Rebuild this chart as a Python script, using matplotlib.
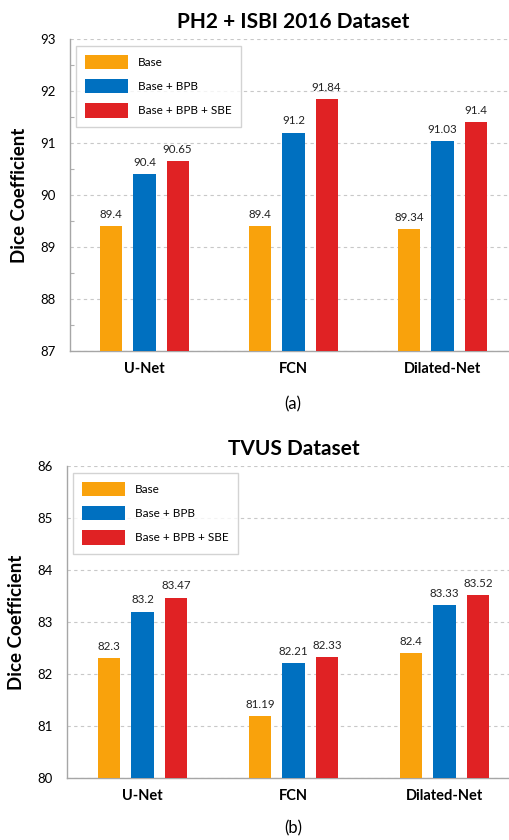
import matplotlib
matplotlib.use("Agg")
import matplotlib.pyplot as plt
import numpy as np
from matplotlib.ticker import MultipleLocator

plt.rcParams['font.family'] = ['Lato', 'DejaVu Sans']

categories = ["U-Net", "FCN", "Dilated-Net"]
series_names = ["Base", "Base + BPB", "Base + BPB + SBE"]
colors = ["#F9A20C", "#0070C0", "#E02224"]

ph2_base = [89.4, 89.4, 89.34]
ph2_bpb = [90.4, 91.2, 91.03]
ph2_sbe = [90.65, 91.84, 91.4]
ph2_labels = [["89.4", "89.4", "89.34"], ["90.4", "91.2", "91.03"], ["90.65", "91.84", "91.4"]]

tvus_base = [82.3, 81.19, 82.4]
tvus_bpb = [83.2, 82.21, 83.33]
tvus_sbe = [83.47, 82.33, 83.52]
tvus_labels = [["82.3", "81.19", "82.4"], ["83.2", "82.21", "83.33"], ["83.47", "82.33", "83.52"]]

W, H = 510, 840
fig = plt.figure(figsize=(W / 100, H / 100), dpi=100)


def draw(ax, series, labels, ylim, title, minor):
    x = np.arange(len(categories))
    width = 0.148
    offs = [-0.222, 0.0, 0.222]
    ax.set_axisbelow(True)
    for i, (vals, lab) in enumerate(zip(series, labels)):
        ax.bar(x + offs[i], np.array(vals) - ylim[0], width, bottom=ylim[0],
               color=colors[i], label=series_names[i], zorder=3)
        for xi, v, t in zip(x + offs[i], vals, lab):
            ax.text(xi, v + 0.12, t, ha='center', va='bottom', fontsize=8.3, color='#222222')
    ax.set_ylim(*ylim)
    ax.set_xlim(-0.5, 2.5)
    ax.set_xticks(x)
    ax.set_xticklabels(categories, fontsize=10.5, fontweight='bold')
    ax.tick_params(axis='x', length=0, pad=8)
    ax.tick_params(axis='y', labelsize=9.5, length=0, pad=10)
    ax.yaxis.set_major_locator(MultipleLocator(1))
    if minor:
        ax.yaxis.set_minor_locator(MultipleLocator(0.5))
        ax.tick_params(axis='y', which='minor', length=3, direction='in', color='#b0b0b0', width=0.8)
    ax.grid(axis='y', which='major', linestyle=(0, (3, 3)), color='#c8c8c8', linewidth=0.8, zorder=0)
    for s in ['top', 'right']:
        ax.spines[s].set_visible(False)
    for s in ['left', 'bottom']:
        ax.spines[s].set_color('#a6a6a6')
        ax.spines[s].set_linewidth(1.0)
    ax.set_ylabel("Dice Coefficient", fontsize=13.5, fontweight='bold', labelpad=9)
    ax.set_title(title, fontsize=15, fontweight='bold', pad=8)
    leg = ax.legend(loc='upper left', bbox_to_anchor=(0.006, 0.99), fontsize=8.5,
                    handlelength=3.6, handleheight=1.5, frameon=True, fancybox=False,
                    borderpad=0.75, labelspacing=0.85, handletextpad=0.9, borderaxespad=0.3)
    leg.get_frame().set_edgecolor('#c8c8c8')
    leg.get_frame().set_linewidth(1.0)


# top axes: left 70, top 39, bottom 351; x-spacing 149 px per group
ax1 = fig.add_axes([70 / W, 1 - 351 / H, 447 / W, 312 / H])
draw(ax1, [ph2_base, ph2_bpb, ph2_sbe], ph2_labels, (87, 93), "PH2 + ISBI 2016 Dataset", True)

ax2 = fig.add_axes([67 / W, 1 - 778 / H, 453 / W, 312 / H])
draw(ax2, [tvus_base, tvus_bpb, tvus_sbe], tvus_labels, (80, 86), "TVUS Dataset", False)

fig.text(293 / W, 1 - 404 / H, "(a)", ha='center', va='center', fontsize=12)
fig.text(293 / W, 1 - 828 / H, "(b)", ha='center', va='center', fontsize=12)

fig.savefig("out.png", dpi=100)
